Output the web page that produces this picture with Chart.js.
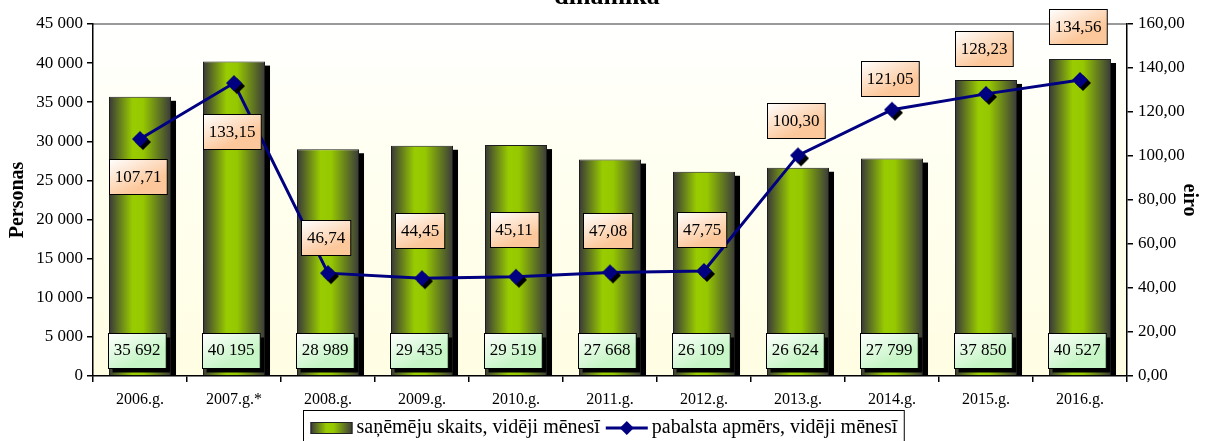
<!DOCTYPE html>
<html>
<head>
<meta charset="utf-8">
<script src="https://cdn.jsdelivr.net/npm/chart.js@4.4.1/dist/chart.umd.min.js"></script>
<style>
  html, body { margin: 0; padding: 0; background: #ffffff; }
  #wrap { width: 1205px; height: 441px; }
</style>
</head>
<body>
<div id="wrap"><canvas id="chart" width="1205" height="441"></canvas></div>
<script>
// dati
const years = ['2006.g.', '2007.g.*', '2008.g.', '2009.g.', '2010.g.', '2011.g.', '2012.g.', '2013.g.', '2014.g.', '2015.g.', '2016.g.'];
const recipients = [35692, 40195, 28989, 29435, 29519, 27668, 26109, 26624, 27799, 37850, 40527];
const benefit = [107.71, 133.15, 46.74, 44.45, 45.11, 47.08, 47.75, 100.30, 121.05, 128.23, 134.56];
const recipientsLabel = 'saņēmēju skaits, vidēji mēnesī';
const benefitLabel = 'pabalsta apmērs, vidēji mēnesī';
const titleText = 'dinamika';

const FONT = "'Liberation Serif', 'DejaVu Serif', serif";
const BAR_SHARE = 0.66;

// kur likt pabalsta etiķetes attiecībā pret punktu (px)
const benefitLabelShift = [37, 48, -36, -48, -47, -42, -41, -35, -31, -45, -53];

function fmtThousands(v) {
    return String(Math.round(v)).replace(/\B(?=(\d{3})+(?!\d))/g, ' ');
}

function fmtEuro(v) {
    return v.toFixed(2).replace('.', ',');
}

function barGradient(ctx, x0, x1) {
    const g = ctx.createLinearGradient(x0, 0, x1, 0);
    g.addColorStop(0, '#383838');
    g.addColorStop(0.38, '#99cc00');
    g.addColorStop(0.55, '#96c800');
    g.addColorStop(1, '#3a3a3a');
    return g;
}

// marķieris - rombs ar ēnu
function makeDiamond() {
    const c = document.createElement('canvas');
    c.width = 26;
    c.height = 26;
    const g = c.getContext('2d');
    const d = (cx, cy, r, col) => {
        g.beginPath();
        g.moveTo(cx, cy - r);
        g.lineTo(cx + r, cy);
        g.lineTo(cx, cy + r);
        g.lineTo(cx - r, cy);
        g.closePath();
        g.fillStyle = col;
        g.fill();
    };
    d(16, 16, 8, '#000000');
    d(13, 13, 8, '#000080');
    return c;
}

function box(ctx, cx, cy, w, h, top, bottom, shadow) {
    const x = Math.round(cx - w / 2) + 0.5;
    const y = Math.round(cy - h / 2) + 0.5;
    if (shadow) {
        ctx.fillStyle = '#000000';
        ctx.fillRect(x + 4, y + 4, w, h);
    }
    const g = ctx.createLinearGradient(x, y, x + w * 0.3, y + h);
    g.addColorStop(0, top);
    g.addColorStop(1, bottom);
    ctx.fillStyle = g;
    ctx.fillRect(x, y, w, h);
    ctx.strokeStyle = '#000000';
    ctx.lineWidth = 1;
    ctx.strokeRect(x, y, w, h);
}

const decorPlugin = {
    id: 'decor',
    beforeDraw(chart) {
        const { ctx, chartArea: a } = chart;
        ctx.save();
        ctx.fillStyle = '#ffffff';
        ctx.fillRect(0, 0, chart.width, chart.height);
        const g = ctx.createLinearGradient(0, a.top, 0, a.bottom);
        g.addColorStop(0, '#ffffff');
        g.addColorStop(0.35, '#fffff2');
        g.addColorStop(1, '#fffde2');
        ctx.fillStyle = g;
        ctx.fillRect(a.left, a.top, a.right - a.left, a.bottom - a.top);
        // augšējā mala
        ctx.strokeStyle = '#9a9a9a';
        ctx.lineWidth = 2;
        ctx.beginPath();
        ctx.moveTo(a.left, a.top);
        ctx.lineTo(a.right, a.top);
        ctx.stroke();
        // virsraksts (nogriezts)
        ctx.fillStyle = '#000000';
        ctx.font = 'bold 26px ' + FONT;
        ctx.textAlign = 'center';
        ctx.textBaseline = 'alphabetic';
        ctx.fillText(titleText, 607, 4);
        ctx.restore();
    },
    beforeDatasetDraw(chart, args) {
        if (args.index !== 0) return;
        // stabiņu ēnas
        const { ctx, chartArea: a } = chart;
        ctx.save();
        ctx.fillStyle = '#000000';
        args.meta.data.forEach((b) => {
            const x = b.x - b.width / 2 + 5;
            const y = b.y + 4;
            ctx.fillRect(x, y, b.width, a.bottom - y);
        });
        ctx.restore();
    },
    afterDatasetsDraw(chart) {
        const { ctx, chartArea: a } = chart;
        const bars = chart.getDatasetMeta(0).data;
        const pts = chart.getDatasetMeta(1).data;
        ctx.save();
        ctx.font = '17px ' + FONT;
        ctx.textAlign = 'center';
        ctx.textBaseline = 'middle';
        bars.forEach((b, i) => {
            const t = fmtThousands(recipients[i]);
            const w = ctx.measureText(t).width + 11;
            const cx = b.x - 3;
            const cy = a.bottom - 26;
            box(ctx, cx, cy, w, 35, '#ffffff', '#c6f5c6', true);
            ctx.fillStyle = '#000000';
            ctx.fillText(t, cx, cy + 1);
        });
        pts.forEach((p, i) => {
            const t = fmtEuro(benefit[i]);
            const w = ctx.measureText(t).width + 11;
            const cx = p.x - 2;
            const cy = p.y + benefitLabelShift[i];
            box(ctx, cx, cy, w, 35, '#ffffff', '#fcc79a', false);
            ctx.fillStyle = '#000000';
            ctx.fillText(t, cx, cy + 1);
        });
        ctx.restore();
    },
    afterDraw(chart) {
        // leģenda ar rāmi
        const ctx = chart.ctx;
        ctx.save();
        ctx.font = '20px ' + FONT;
        ctx.textBaseline = 'middle';
        ctx.textAlign = 'left';
        const w1 = ctx.measureText(recipientsLabel).width;
        const w2 = ctx.measureText(benefitLabel).width;
        const sw = 42;
        const total = 7 + sw + 4 + w1 + 6 + sw + 4 + w2 + 7;
        const x0 = Math.round(603 - total / 2) + 0.5;
        const y0 = 410.5;
        const h = 36;
        ctx.fillStyle = '#ffffff';
        ctx.fillRect(x0, y0, total, h);
        ctx.strokeStyle = '#000000';
        ctx.lineWidth = 1;
        ctx.strokeRect(x0, y0, total, h);
        const cy = 428;
        let x = x0 + 7;
        ctx.fillStyle = barGradient(ctx, x, x + sw);
        ctx.fillRect(x, cy - 6, sw, 12);
        ctx.strokeStyle = '#222222';
        ctx.strokeRect(x + 0.5, cy - 6 + 0.5, sw - 1, 11);
        x += sw + 4;
        ctx.fillStyle = '#000000';
        ctx.fillText(recipientsLabel, x, cy);
        x += w1 + 6;
        ctx.strokeStyle = '#000080';
        ctx.lineWidth = 3;
        ctx.beginPath();
        ctx.moveTo(x, cy);
        ctx.lineTo(x + sw, cy);
        ctx.stroke();
        const mx = x + sw / 2;
        ctx.fillStyle = '#000080';
        ctx.beginPath();
        ctx.moveTo(mx, cy - 7);
        ctx.lineTo(mx + 7, cy);
        ctx.lineTo(mx, cy + 7);
        ctx.lineTo(mx - 7, cy);
        ctx.closePath();
        ctx.fill();
        x += sw + 4;
        ctx.fillStyle = '#000000';
        ctx.fillText(benefitLabel, x, cy);
        ctx.restore();
    }
};

const tickFont = { family: FONT, size: 17 };
const axisGrid = {
    drawOnChartArea: false,
    drawTicks: true,
    tickLength: 6,
    color: '#000000',
    lineWidth: 1.5
};

new Chart(document.getElementById('chart'), {
    type: 'bar',
    data: {
        labels: years,
        datasets: [
            {
                type: 'bar',
                label: recipientsLabel,
                data: recipients,
                yAxisID: 'y',
                order: 2,
                backgroundColor: (c) => {
                    const chart = c.chart;
                    const sx = chart.scales.x;
                    if (!chart.chartArea || !sx || c.dataIndex === undefined) return '#99cc00';
                    const cx = sx.getPixelForValue(c.dataIndex);
                    const bw = (sx.width / years.length) * BAR_SHARE;
                    return barGradient(chart.ctx, cx - bw / 2, cx + bw / 2);
                },
                borderColor: '#1e1e1e',
                borderWidth: 1,
                categoryPercentage: 1,
                barPercentage: BAR_SHARE
            },
            {
                type: 'line',
                label: benefitLabel,
                data: benefit,
                yAxisID: 'y1',
                order: 1,
                borderColor: '#000080',
                borderWidth: 3,
                pointStyle: makeDiamond(),
                pointRadius: 8,
                tension: 0,
                clip: false
            }
        ]
    },
    options: {
        responsive: false,
        animation: false,
        layout: { padding: { top: 24, bottom: 33, left: 0, right: 0 } },
        plugins: {
            legend: { display: false },
            tooltip: { enabled: false }
        },
        scales: {
            x: {
                grid: Object.assign({}, axisGrid, { offset: true }),
                border: { display: true, color: '#000000', width: 1.5 },
                ticks: { font: { family: FONT, size: 16 }, color: '#000000', padding: 8, maxRotation: 0 },
                afterFit: (s) => { s.height = 32; }
            },
            y: {
                position: 'left',
                min: 0,
                max: 45000,
                grid: axisGrid,
                border: { display: true, color: '#000000', width: 1.5 },
                ticks: {
                    stepSize: 5000,
                    font: tickFont,
                    color: '#000000',
                    padding: 4,
                    callback: (v) => fmtThousands(v)
                },
                title: {
                    display: true,
                    text: 'Personas',
                    font: { family: FONT, size: 20, weight: 'bold' },
                    color: '#000000',
                    padding: { top: 6, bottom: 0 }
                },
                afterFit: (s) => { s.width = 93; }
            },
            y1: {
                position: 'right',
                min: 0,
                max: 160,
                grid: axisGrid,
                border: { display: true, color: '#000000', width: 1.5 },
                ticks: {
                    stepSize: 20,
                    font: tickFont,
                    color: '#000000',
                    padding: 5,
                    callback: (v) => fmtEuro(v)
                },
                title: {
                    display: true,
                    text: 'eiro',
                    font: { family: FONT, size: 20, weight: 'bold' },
                    color: '#000000',
                    padding: { top: 4, bottom: 0 }
                },
                afterFit: (s) => { s.width = 78; }
            }
        }
    },
    plugins: [decorPlugin]
});
</script>
</body>
</html>
